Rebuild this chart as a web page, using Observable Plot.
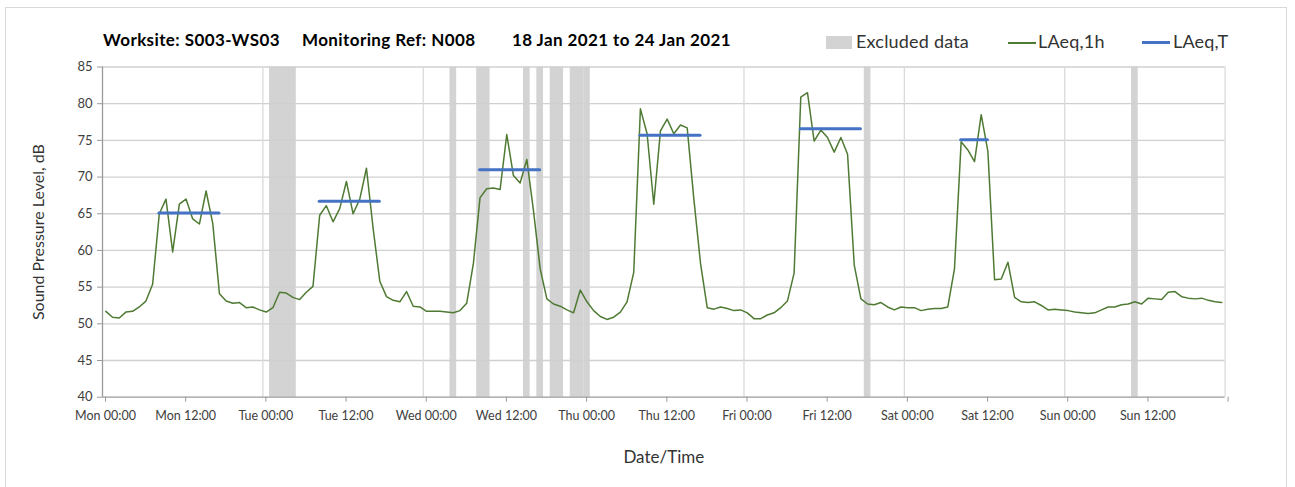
<!DOCTYPE html>
<html>
<head>
<meta charset="utf-8">
<script src="https://cdn.jsdelivr.net/npm/d3@7"></script>
<script src="https://cdn.jsdelivr.net/npm/@observablehq/plot@0.6"></script>
<style>
  html, body { margin: 0; padding: 0; background: #fff; }
  body { width: 1295px; height: 487px; position: relative; overflow: hidden; font-family: Lato, "Open Sans", sans-serif; }
  #frame { position: absolute; left: 5px; top: 7px; width: 1282px; height: 500px; border: 1px solid #d9d9d9; box-sizing: border-box; }
  #chart { position: absolute; left: 0; top: 0; }
  .title { position: absolute; top: 30px; font-weight: bold; font-size: 17px; letter-spacing: 0.4px; color: #000; white-space: nowrap; line-height: 20px; }
  .leg { position: absolute; top: 31px; font-size: 18px; letter-spacing: 0.2px; color: #333; white-space: nowrap; line-height: 20px; }
  .sw { position: absolute; }
</style>
</head>
<body>
<div id="frame"></div>
<div id="chart"></div>
<div class="title" style="left:103px">Worksite: S003-WS03</div>
<div class="title" style="left:302px">Monitoring Ref: N008</div>
<div class="title" style="left:512px">18 Jan 2021 to 24 Jan 2021</div>
<div class="sw" style="left:826px;top:36px;width:26px;height:13px;background:#d3d3d3"></div>
<div class="leg" style="left:856px">Excluded data</div>
<div class="sw" style="left:1008px;top:42px;width:28px;height:1.5px;background:#4f7a33"></div>
<div class="leg" style="left:1038px">LAeq,1h</div>
<div class="sw" style="left:1142px;top:41px;width:28px;height:3px;background:#4472c4"></div>
<div class="leg" style="left:1173px">LAeq,T</div>
<script>
// Hourly LAeq,1h values, Mon 18 Jan 2021 00:00 onwards (one per hour, plotted at mid-hour)
const laeq1h = [
  51.7, 50.9, 50.8, 51.6, 51.7, 52.3, 53.1, 55.4, 65.0, 67.0,
  59.8, 66.3, 67.0, 64.3, 63.6, 68.1, 63.7, 54.1, 53.1, 52.8,
  52.9, 52.2, 52.3, 51.9, 51.6, 52.2, 54.3, 54.2, 53.6, 53.3,
  54.3, 55.1, 64.8, 66.1, 63.9, 65.7, 69.4, 65.0, 67.0, 71.2,
  63.0, 55.8, 53.7, 53.2, 53.0, 54.4, 52.4, 52.3, 51.7, 51.7,
  51.7, 51.6, 51.5, 51.8, 52.8, 58.2, 67.2, 68.4, 68.5, 68.3,
  75.8, 70.2, 69.2, 72.4, 65.4, 57.5, 53.4, 52.7, 52.4, 51.9,
  51.5, 54.6, 53.0, 51.8, 51.0, 50.6, 50.9, 51.6, 53.0, 57.0,
  79.3, 75.9, 66.3, 76.3, 77.9, 75.9, 77.1, 76.7, 67.0, 58.2,
  52.2, 52.0, 52.3, 52.1, 51.8, 51.9, 51.5, 50.7, 50.7, 51.2,
  51.5, 52.2, 53.1, 56.9, 80.9, 81.5, 74.9, 76.4, 75.4, 73.4,
  75.4, 73.1, 58.0, 53.4, 52.7, 52.6, 52.9, 52.3, 51.9, 52.3,
  52.2, 52.2, 51.8, 52.0, 52.1, 52.1, 52.3, 57.5, 74.8, 73.7,
  72.1, 78.5, 73.5, 56.0, 56.1, 58.4, 53.6, 53.0, 52.9, 53.0,
  52.5, 51.9, 52.0, 51.9, 51.8, 51.6, 51.5, 51.4, 51.5, 51.9,
  52.3, 52.3, 52.6, 52.7, 53.0, 52.7, 53.5, 53.4, 53.3, 54.3,
  54.4, 53.7, 53.5, 53.4, 53.5, 53.2, 53.0, 52.9
];

// LAeq,T periods
const laeqTStart = ["2021-01-18T08:30Z", "2021-01-19T08:30Z", "2021-01-20T08:30Z", "2021-01-21T08:30Z", "2021-01-22T08:30Z", "2021-01-23T08:30Z"];
const laeqTEnd   = ["2021-01-18T17:30Z", "2021-01-19T17:30Z", "2021-01-20T17:30Z", "2021-01-21T17:30Z", "2021-01-22T17:30Z", "2021-01-23T12:30Z"];
const laeqTValue = [65.1, 66.7, 71.0, 75.7, 76.6, 75.1];

// Excluded data periods
const excludedStart = ["2021-01-19T01:00Z", "2021-01-20T04:00Z", "2021-01-20T08:00Z", "2021-01-20T15:00Z", "2021-01-20T17:00Z", "2021-01-20T19:00Z", "2021-01-20T22:00Z", "2021-01-22T18:00Z", "2021-01-24T10:00Z"];
const excludedEnd   = ["2021-01-19T05:00Z", "2021-01-20T05:00Z", "2021-01-20T10:00Z", "2021-01-20T16:00Z", "2021-01-20T18:00Z", "2021-01-20T21:00Z", "2021-01-21T01:00Z", "2021-01-22T19:00Z", "2021-01-24T11:00Z"];

// Axis ticks
const periodStart = "2021-01-18T00:00Z";
const periodEnd = "2021-01-25T00:00Z";
const yTicks = [40, 45, 50, 55, 60, 65, 70, 75, 80, 85];

const H = 3600e3;
const t0 = new Date(periodStart);
const t1 = new Date(periodEnd);
const series = laeq1h.map((v, i) => ({t: new Date(+t0 + (i + 0.5) * H), v}));
const laeqT = laeqTValue.map((v, i) => ({s: new Date(laeqTStart[i]), e: new Date(laeqTEnd[i]), v}));
const excluded = excludedStart.map((s, i) => ({a: new Date(s), b: new Date(excludedEnd[i])}));
const xTicks = d3.utcHour.every(12).range(t0, new Date(+t1 + 1));
const dayTicks = d3.utcDay.range(new Date(+t0 + 1), new Date(+t1 + 1));
const fmt = d3.utcFormat("%a %H:%M");

const plot = Plot.plot({
  width: 1295,
  height: 487,
  marginLeft: 102,
  marginRight: 70.4,
  marginTop: 66.5,
  marginBottom: 90.3,
  style: {fontFamily: "Lato, 'Open Sans', sans-serif", fontSize: "12.5px", color: "#404040", background: "transparent"},
  x: {type: "utc", domain: [t0, t1]},
  y: {domain: [40, 85]},
  marks: [
    Plot.rect(excluded, {x1: "a", x2: "b", y1: 40, y2: 85, fill: "#d3d3d3", inset: 0}),
    Plot.gridY(yTicks.slice(1), {stroke: "#d0d0d0", strokeOpacity: 1, strokeWidth: 1.3}),
    Plot.gridX(dayTicks, {stroke: "#dadada", strokeOpacity: 1, strokeWidth: 1.3}),
    Plot.ruleY([40], {stroke: "#9a9a9a", strokeWidth: 1.3}),
    Plot.ruleX([t0], {stroke: "#9a9a9a", strokeWidth: 1.3}),
    Plot.axisY(yTicks, {tickSize: 5, tickPadding: 5, stroke: "#9a9a9a", fontSize: 13, label: null}),
    Plot.axisY([], {label: "Sound Pressure Level, dB", labelAnchor: "center", labelArrow: "none", labelOffset: 70, fontSize: 16, tickSize: 0, color: "#333"}),
    Plot.axisX(xTicks, {tickSize: 5, tickPadding: 9, stroke: "#9a9a9a", fontSize: 12.5, dx: 3,
      tickFormat: d => (+d === +t1 ? "" : fmt(d)), label: null}),
    Plot.axisX([], {label: "Date/Time", labelAnchor: "center", labelArrow: "none", labelOffset: 66, fontSize: 17, tickSize: 0, color: "#333", dx: -8}),
    Plot.line(series, {x: "t", y: "v", stroke: "#4f7a33", strokeWidth: 1.5}),
    Plot.ruleY(laeqT, {y: "v", x1: "s", x2: "e", stroke: "#4472c4", strokeWidth: 3, strokeLinecap: "round"})
  ]
});
document.getElementById("chart").appendChild(plot);
</script>
</body>
</html>
